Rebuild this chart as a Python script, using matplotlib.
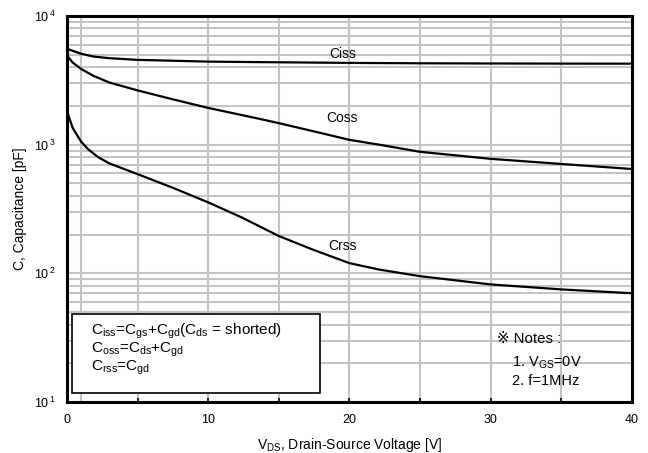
import numpy as np
import matplotlib
matplotlib.use("Agg")
import matplotlib.pyplot as plt
from matplotlib.ticker import FixedLocator, FuncFormatter

plt.rcParams['font.family'] = ['Liberation Sans', 'DejaVu Sans']
plt.rcParams['mathtext.fontset'] = 'custom'
plt.rcParams['mathtext.rm'] = 'Liberation Sans'
plt.rcParams['mathtext.it'] = 'Liberation Sans'

# valores
v_ciss = [0, 1, 1.86, 3, 5, 10, 13.6, 20, 25, 30, 35, 40]
c_ciss = [5560, 5090, 4840, 4700, 4560, 4420, 4380, 4320, 4290, 4275, 4265, 4260]

v_coss = [0, 0.4, 1, 1.86, 3, 5, 7.5, 10, 13.6, 15, 18, 20, 22.1, 25, 30, 35, 40]
c_coss = [4930, 4350, 3875, 3430, 3040, 2640, 2250, 1930, 1590, 1470, 1230, 1090, 1000, 880, 776, 708, 647]

v_crss = [0, 0.4, 1, 1.5, 2.2, 3, 5, 7.5, 10, 12.4, 15, 17.4, 20, 22.1, 25, 30, 35, 40]
c_crss = [1820, 1350, 1055, 920, 800, 715, 590, 462, 356, 271, 195, 153, 120, 107, 95, 82, 75, 70]

grid_x = [1, 5, 10, 15, 20, 25, 30, 35]
xticks = [0, 10, 20, 30, 40]
xminor = [5, 15, 25, 35]
yticks = [10, 100, 1000, 10000]

fig = plt.figure(figsize=(6.48, 4.53), dpi=100)
ax = fig.add_axes([0.1034, 0.1126, 0.8716, 0.8521])
ax.set_yscale('log')
ax.set_xlim(0, 40)
ax.set_ylim(10, 10000)

# grade
for gx in grid_x:
    ax.axvline(gx, color='#c4c4c4', lw=1.5, zorder=1)
for dec in [10, 100, 1000]:
    for k in range(1, 10):
        ax.axhline(dec * k, color='#c4c4c4', lw=1.5, zorder=1)

ax.plot(v_ciss, c_ciss, color='black', lw=1.6, zorder=3)
ax.plot(v_coss, c_coss, color='black', lw=1.6, zorder=3)
ax.plot(v_crss, c_crss, color='black', lw=1.6, zorder=3)

ax.text(19.5, 5100, 'Ciss', fontsize=10, ha='center', va='center')
ax.text(19.5, 1600, 'Coss', fontsize=10, ha='center', va='center')
ax.text(19.5, 162, 'Crss', fontsize=10, ha='center', va='center')

for s in ax.spines.values():
    s.set_linewidth(2.2)

ax.xaxis.set_major_locator(FixedLocator(xticks))
ax.xaxis.set_minor_locator(FixedLocator(xminor))
ax.yaxis.set_major_locator(FixedLocator(yticks))
ax.yaxis.set_minor_locator(FixedLocator([]))
ax.yaxis.set_major_formatter(FuncFormatter(lambda v, p: r'$\mathregular{10^{\,%d}}$' % int(round(np.log10(v)))))
ax.tick_params(axis='x', which='both', direction='in', length=3, width=1.2, labelsize=9, pad=9)
ax.tick_params(axis='y', which='both', length=0, labelsize=9, pad=8)

ax.set_xlabel(r'V$_{\mathregular{DS}}$, Drain-Source Voltage [V]', fontsize=10, labelpad=7)
ax.set_ylabel('C, Capacitance [pF]', fontsize=10, labelpad=5)

# caixa de legenda
box_txt = ('C$_{\\mathregular{iss}}$=C$_{\\mathregular{gs}}$+C$_{\\mathregular{gd}}$(C$_{\\mathregular{ds}}$ = shorted)\n'
           'C$_{\\mathregular{oss}}$=C$_{\\mathregular{ds}}$+C$_{\\mathregular{gd}}$\n'
           'C$_{\\mathregular{rss}}$=C$_{\\mathregular{gd}}$')
rect = plt.Rectangle((0.0088, 0.023), 0.4386, 0.205, transform=ax.transAxes,
                     facecolor='white', edgecolor='black', lw=1.2, zorder=4)
ax.add_patch(rect)
ax.text(0.042, 0.209, box_txt, transform=ax.transAxes, fontsize=11, va='top',
        ha='left', linespacing=1.0, zorder=5)

ax.text(0.762, 0.163, '※ Notes :', transform=ax.transAxes, fontsize=10.8,
        va='center', ha='left', zorder=5)
ax.text(0.788, 0.101, r'1. V$_{\mathregular{GS}}$=0V', transform=ax.transAxes,
        fontsize=10.5, va='center', ha='left', zorder=5)
ax.text(0.788, 0.054, '2. f=1MHz', transform=ax.transAxes, fontsize=10.5,
        va='center', ha='left', zorder=5)

fig.savefig('out.png', dpi=100)
